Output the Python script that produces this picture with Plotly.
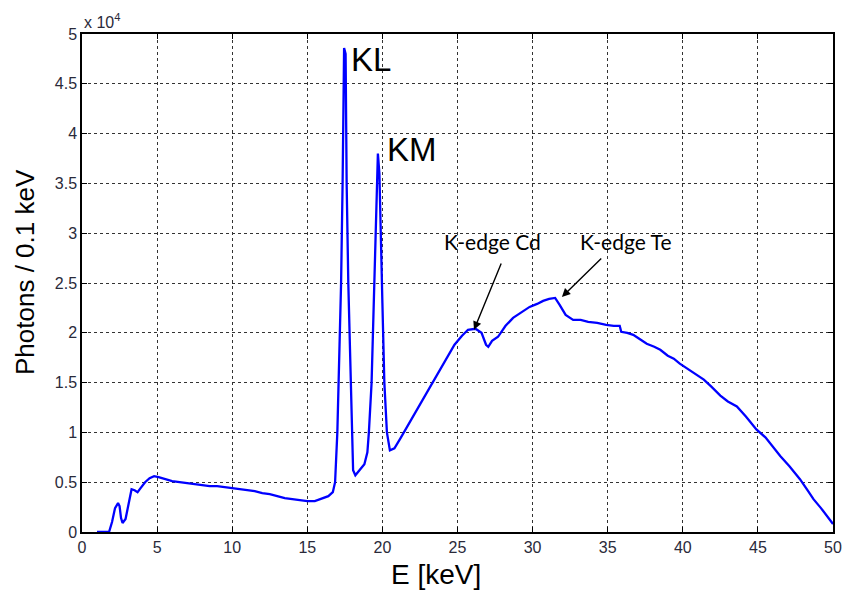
import plotly.graph_objects as go

# Energy (keV) and photons per 0.1 keV (in units of 10^4)
energy_keV = [
    1.0, 1.8, 2.0, 2.2, 2.4, 2.5, 2.6, 2.7, 2.9, 3.1, 3.3, 3.5, 3.7, 3.9, 4.2, 4.5, 4.8,
    5.1, 5.5, 6.0, 6.5, 7.0, 7.5, 8.0, 8.5, 9.0, 9.5, 10.0, 10.5, 11.0, 11.5, 12.0,
    12.5, 13.0, 13.5, 14.0, 14.5, 15.0, 15.5, 16.0, 16.4, 16.7, 16.85, 17.0, 17.1,
    17.25, 17.35, 17.45, 17.55, 17.62, 17.73, 17.88, 17.95, 18.05, 18.2, 18.5, 18.8,
    19.0, 19.1, 19.28, 19.45, 19.6, 19.7, 19.8, 19.9, 20.0, 20.13, 20.3, 20.5, 20.8,
    21.2, 21.7, 22.2, 22.7, 23.2, 23.7, 24.3, 24.8, 25.3, 25.7, 26.2, 26.6, 26.9,
    27.05, 27.3, 27.7, 28.2, 28.7, 29.2, 29.8, 30.3, 30.7, 31.1, 31.5, 31.8, 32.2,
    32.7, 33.2, 33.7, 34.3, 34.9, 35.4, 35.8, 35.9, 36.3, 36.7, 37.1, 37.6, 38.1,
    38.5, 39.0, 39.4, 39.8, 40.3, 40.8, 41.4, 41.9, 42.5, 43.0, 43.6, 44.2, 44.9,
    45.5, 46.0, 46.5, 47.1, 47.8, 48.3, 48.7, 49.2, 49.6, 50.0,
]
photons_1e4 = [
    0.0, 0.0, 0.10, 0.24, 0.29, 0.26, 0.14, 0.09, 0.13, 0.30, 0.43, 0.42, 0.40, 0.44,
    0.50, 0.54, 0.56, 0.55, 0.53, 0.51, 0.50, 0.49, 0.48, 0.47, 0.46, 0.46, 0.45, 0.44,
    0.43, 0.42, 0.41, 0.39, 0.38, 0.36, 0.34, 0.33, 0.32, 0.31, 0.31, 0.34, 0.36, 0.40,
    0.50, 1.0, 1.5, 2.5, 3.5, 4.86, 4.80, 3.5, 2.5, 1.5, 1.0, 0.62, 0.57, 0.62, 0.68,
    0.80, 1.0, 1.5, 2.5, 3.4, 3.80, 3.6, 2.8, 2.3, 1.5, 1.0, 0.82, 0.84, 0.94, 1.07,
    1.20, 1.33, 1.46, 1.60, 1.75, 1.88, 1.97, 2.03, 2.04, 2.00, 1.88, 1.86, 1.92, 1.96,
    2.07, 2.15, 2.20, 2.26, 2.29, 2.32, 2.34, 2.35, 2.28, 2.18, 2.13, 2.13, 2.11, 2.10,
    2.08, 2.07, 2.07, 2.01, 2.00, 1.98, 1.94, 1.89, 1.86, 1.83, 1.77, 1.74, 1.69, 1.64,
    1.59, 1.53, 1.46, 1.37, 1.31, 1.26, 1.16, 1.03, 0.95, 0.85, 0.76, 0.66, 0.53, 0.42,
    0.33, 0.24, 0.16, 0.08,
]

x_ticks = [0, 5, 10, 15, 20, 25, 30, 35, 40, 45, 50]
y_ticks = [0, 0.5, 1, 1.5, 2, 2.5, 3, 3.5, 4, 4.5, 5]
y_tick_text = ["0", "0.5", "1", "1.5", "2", "2.5", "3", "3.5", "4", "4.5", "5"]

FONT = "Liberation Sans, Arial"
TICK_COLOR = "#2a2a3a"

fig = go.Figure()
fig.add_trace(go.Scatter(
    x=energy_keV, y=photons_1e4, mode="lines",
    line=dict(color="#0000ff", width=2.3), showlegend=False,
))

axis_common = dict(
    showline=True, linecolor="black", linewidth=1.5, mirror="ticks",
    ticks="inside", ticklen=5, tickcolor="black",
    showgrid=True, gridcolor="#333333", gridwidth=1, griddash="3px,3px",
    zeroline=False, automargin=False,
    tickfont=dict(family=FONT, size=16, color=TICK_COLOR),
)

fig.update_xaxes(range=[0, 50], tickvals=x_ticks, **axis_common)
fig.update_yaxes(range=[0, 5], tickvals=y_ticks, ticktext=y_tick_text, **axis_common)

# axis titles
fig.add_annotation(x=0.471, y=-0.086, xref="paper", yref="paper", yanchor="middle",
                   text="E [keV]", showarrow=False,
                   font=dict(family=FONT, size=28, color="black"))
fig.add_annotation(x=-0.076, y=0.522, xref="paper", yref="paper", xanchor="center",
                   text="Photons / 0.1 keV", showarrow=False, textangle=-90,
                   font=dict(family=FONT, size=26, color="black"))

fig.add_annotation(x=0, y=1, xref="paper", yref="paper", xanchor="left", yanchor="bottom",
                   text="x 10<sup>4</sup>", showarrow=False, yshift=1,
                   font=dict(family=FONT, size=16, color=TICK_COLOR))

fig.add_annotation(x=17.8, y=4.74, text="KL", showarrow=False, xanchor="left",
                   font=dict(family=FONT, size=33, color="black"))
fig.add_annotation(x=20.15, y=3.84, text="KM", showarrow=False, xanchor="left",
                   font=dict(family=FONT, size=33, color="black"))

# edge labels
fig.add_annotation(x=27.3, y=2.92, text="K-edge Cd", showarrow=False,
                   font=dict(family="Lato, Open Sans", size=21, color="black"))
fig.add_annotation(x=36.2, y=2.92, text="K-edge Te", showarrow=False,
                   font=dict(family="Lato, Open Sans", size=21, color="black"))
# arrows
fig.add_annotation(x=26.1, y=2.03, ax=27.95, ay=2.71, axref="x", ayref="y", text="",
                   showarrow=True, arrowhead=2, arrowsize=1.2, arrowwidth=1.4, arrowcolor="black")
fig.add_annotation(x=31.95, y=2.36, ax=34.67, ay=2.76, axref="x", ayref="y", text="",
                   showarrow=True, arrowhead=2, arrowsize=1.2, arrowwidth=1.4, arrowcolor="black")

fig.update_layout(
    width=843, height=594,
    margin=dict(l=82, r=10, t=34, b=62, autoexpand=False),
    paper_bgcolor="white", plot_bgcolor="white",
)

fig.write_html("out.html", config={"displayModeBar": False},
               post_script="document.body.style.margin='0';")
